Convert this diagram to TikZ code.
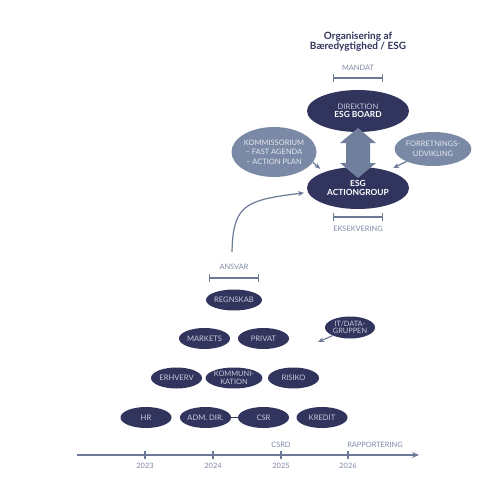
\documentclass[tikz,border=0pt]{standalone}
\usepackage{fontspec}
\setmainfont{Lato}
\usetikzlibrary{shapes.geometric,arrows.meta}
\definecolor{navy}{HTML}{31345C}
\definecolor{navtext}{HTML}{C9CCDD}
\definecolor{lightell}{HTML}{7A8AA6}
\definecolor{lighttext}{HTML}{E4E7F0}
\definecolor{linec}{HTML}{6C7A97}
\definecolor{dblc}{HTML}{6F7F9C}
\definecolor{labc}{HTML}{7F88A2}
\begin{document}
\begin{tikzpicture}[x=1pt,y=-1pt,
  nv/.style={ellipse, fill=navy, inner sep=0pt, text=navtext, align=center,
    font=\fontsize{7.6}{8.4}\selectfont},
  bigell/.style={nv, minimum width=102pt, minimum height=42pt},
  smell/.style={nv, minimum width=51pt, minimum height=21pt},
  lt/.style={ellipse, fill=lightell, inner sep=0pt, text=lighttext, align=center,
    font=\fontsize{7.5}{9.6}\selectfont},
  lab/.style={text=labc, font=\fontsize{7.4}{8}\selectfont, inner sep=0pt},
  bartick/.style={draw=linec, line width=1.4pt, {Bar[width=8pt,line width=1pt]}-{Bar[width=8pt,line width=1pt]}},
  arr/.style={draw=linec, line width=1.2pt, -{Stealth[length=6pt,width=5pt]}},
]
\useasboundingbox (0,0) rectangle (500,500);

% title
\node[text=navy, font=\fontsize{10}{10.4}\selectfont\bfseries, align=center, inner sep=0pt] (title) at (358,41.5)
  {Organisering af\\Bæredygtighed / ESG};

% mandat
\node[lab] (mandat) at (358,68) {MANDAT};
\coordinate (m1) at (333,78); \coordinate (m2) at (383,78);
\draw[bartick] (m1) -- (m2);

% top ellipses
\node[bigell] (board) at (358,111) {DIREKTION\\[-0.3pt]{\color{white}\bfseries\fontsize{8.4}{9}\selectfont ESG BOARD}};
\node[bigell, text=white, font=\fontsize{8.4}{9.4}\selectfont\bfseries] (ag) at (358,188) {ESG\\ACTIONGROUP};
\node[lt, minimum width=78pt, minimum height=50pt] (kom) at (274,152)
  {KOMMISSORIUM\\– FAST AGENDA\\– ACTION PLAN};
\node[lt, minimum width=64pt, minimum height=34pt] (fu) at (433,149)
  {FORRETNINGS-\\UDVIKLING};

% double arrow
\fill[dblc] (358,128) -- (376,143) -- (370,143) -- (370,163) -- (376,163) -- (358,178)
  -- (340,163) -- (346,163) -- (346,143) -- (340,143) -- cycle;

\draw[arr, shorten >=5pt] (kom.-15) -- (ag.155);
\draw[arr, shorten >=6pt] (fu.205) -- (ag.30);

% eksekvering
\coordinate (e1) at (333,217); \coordinate (e2) at (383,217);
\draw[bartick] (e1) -- (e2);
\node[lab] (eks) at (358,229) {EKSEKVERING};

% curved arrow
\coordinate (cstart) at (232,252);
\draw[arr, shorten >=4pt] (cstart) .. controls (233,205) and (245,200) .. (ag.185);

% ansvar
\node[lab] (ansvar) at (234,267) {ANSVAR};
\coordinate (a1) at (209,278); \coordinate (a2) at (259,278);
\draw[bartick] (a1) -- (a2);

% pyramid
\node[smell] (regnskab) at (234,300) {REGNSKAB};
\node[smell] (markets) at (204.5,338.5) {MARKETS};
\node[smell] (privat) at (263.5,338.5) {PRIVAT};
\node[smell, minimum width=50pt, minimum height=22pt, font=\fontsize{7.4}{7.6}\selectfont] (it) at (350,327.5) {IT/DATA-\\GRUPPEN};
\coordinate (itend) at (318,342);
\draw[arr, line width=1.1pt] (it.205) -- (itend);
\node[smell] (erhverv) at (176.5,378) {ERHVERV};
\node[smell, font=\fontsize{7.4}{7.6}\selectfont] (komm) at (234,378) {KOMMUNI-\\KATION};
\node[smell] (risiko) at (293.5,378) {RISIKO};
\node[smell] (hr) at (146,417.5) {HR};
\node[smell] (adm) at (205.5,417.5) {ADM. DIR.};
\node[smell] (csr) at (263.5,417.5) {CSR};
\node[smell] (kredit) at (322,417.5) {KREDIT};
\draw[navy, line width=1.6pt] (adm.east) -- (csr.west);

% timeline
\coordinate (t0) at (77,455); \coordinate (t1) at (419,455);
\draw[draw=linec, line width=1.3pt, -{Stealth[length=7pt,width=6pt]}] (t0) -- (t1);
\foreach \x/\y [count=\i] in {145/2023,213/2024,281/2025,348/2026}{
  \draw[linec, line width=1.1pt] (\x,451) -- (\x,459);
  \node[lab] (y\i) at (\x,465.5) {\y};
}
\node[lab] (csrd) at (281,445) {CSRD};
\node[lab] (rapp) at (375,445) {RAPPORTERING};
\end{tikzpicture}
\end{document}
